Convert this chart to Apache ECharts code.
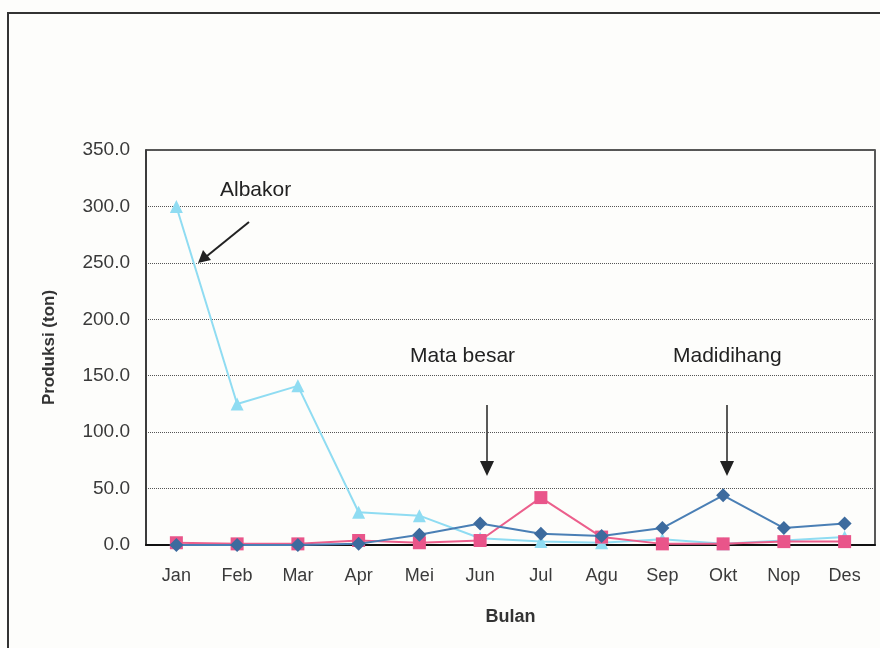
<!DOCTYPE html>
<html>
<head>
<meta charset="utf-8">
<script src="https://cdn.jsdelivr.net/npm/echarts@6/dist/echarts.min.js"></script>
<style>
  html, body { margin: 0; padding: 0; background: #fdfdfb; }
  #chart { width: 880px; height: 648px; }
</style>
</head>
<body>
<div id="chart"></div>
<script>
// bulan
var months = ['Jan', 'Feb', 'Mar', 'Apr', 'Mei', 'Jun', 'Jul', 'Agu', 'Sep', 'Okt', 'Nop', 'Des'];
// produksi (ton) per jenis
var albakor    = [300, 125, 141, 29, 26, 6, 3, 2, 5, 1, 4, 7];
var mataBesar  = [2, 1, 1, 4, 2, 4, 42, 7, 1, 1, 3, 3];
var madidihang = [0, 0, 0, 1, 9, 19, 10, 8, 15, 44, 15, 19];

var myChart = echarts.init(document.getElementById('chart'));

var font = 'Liberation Sans, Arial, sans-serif';

var option = {
    backgroundColor: '#fdfdfb',
    animation: false,
    grid: {
        left: 146, right: 5, top: 150, bottom: 103,
        show: true, borderColor: '#222', borderWidth: 1.5, backgroundColor: 'transparent'
    },
    xAxis: {
        type: 'category',
        data: months,
        boundaryGap: true,
        name: 'Bulan',
        nameLocation: 'middle',
        nameGap: 63,
        nameTextStyle: { fontFamily: font, fontSize: 18, fontWeight: 'bold', color: '#333' },
        axisLine: { lineStyle: { color: '#111', width: 2 } },
        axisTick: { show: false },
        axisLabel: { fontFamily: font, fontSize: 18, color: '#3a3a3a', margin: 22 }
    },
    yAxis: {
        type: 'value',
        min: 0, max: 350, interval: 50,
        name: 'Produksi (ton)',
        nameLocation: 'middle',
        nameGap: 88,
        nameTextStyle: { fontFamily: font, fontSize: 17, fontWeight: 'bold', color: '#333' },
        axisLine: { show: true, lineStyle: { color: '#333', width: 1.5 } },
        axisTick: { show: false },
        axisLabel: {
            fontFamily: font, fontSize: 19, color: '#3a3a3a', margin: 16,
            formatter: function (v) { return v.toFixed(1); }
        },
        splitLine: { lineStyle: { color: '#555', type: 'dotted', width: 1 } }
    },
    series: [
        {
            name: 'Albakor', type: 'line', data: albakor,
            symbol: 'triangle', symbolSize: 13,
            lineStyle: { color: '#8fdcf2', width: 2 },
            itemStyle: { color: '#8fdcf2' }, z: 2
        },
        {
            name: 'Mata besar', type: 'line', data: mataBesar,
            symbol: 'rect', symbolSize: 13,
            lineStyle: { color: '#ec5f8c', width: 2 },
            itemStyle: { color: '#e9558a' }, z: 3
        },
        {
            name: 'Madidihang', type: 'line', data: madidihang,
            symbol: 'diamond', symbolSize: 14,
            lineStyle: { color: '#4a7fb5', width: 2 },
            itemStyle: { color: '#3d6b9e' }, z: 4
        }
    ],
    graphic: [
        // bingkai luar hasil scan
        { type: 'rect', shape: { x: 8, y: 13, width: 900, height: 700 },
          style: { fill: 'none', stroke: '#333', lineWidth: 2 }, z: -1 },
        // keterangan
        { type: 'text', left: 220, top: 180,
          style: { text: 'Albakor', font: '21px ' + font, fill: '#222' } },
        { type: 'line', shape: { x1: 249, y1: 222, x2: 207, y2: 256 },
          style: { stroke: '#222', lineWidth: 2 } },
        { type: 'polygon', shape: { points: [[198, 263], [203, 250], [211, 260]] },
          style: { fill: '#222' } },
        { type: 'text', left: 410, top: 346,
          style: { text: 'Mata besar', font: '21px ' + font, fill: '#222' } },
        { type: 'line', shape: { x1: 487, y1: 405, x2: 487, y2: 462 },
          style: { stroke: '#222', lineWidth: 1.5 } },
        { type: 'polygon', shape: { points: [[480, 461], [494, 461], [487, 476]] },
          style: { fill: '#222' } },
        { type: 'text', left: 673, top: 346,
          style: { text: 'Madidihang', font: '21px ' + font, fill: '#222' } },
        { type: 'line', shape: { x1: 727, y1: 405, x2: 727, y2: 462 },
          style: { stroke: '#222', lineWidth: 1.5 } },
        { type: 'polygon', shape: { points: [[720, 461], [734, 461], [727, 476]] },
          style: { fill: '#222' } }
    ]
};

myChart.setOption(option, true);
</script>
</body>
</html>
